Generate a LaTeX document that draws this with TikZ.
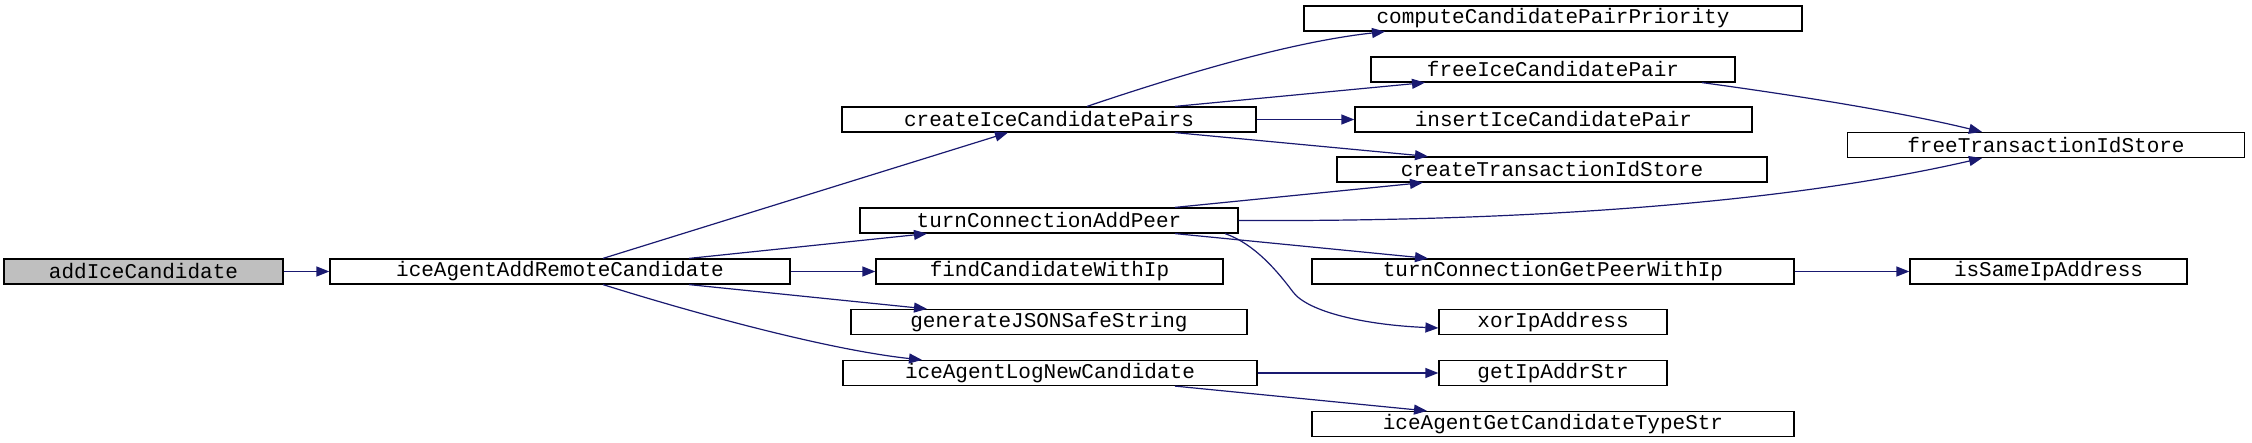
\documentclass[tikz,border=0pt]{standalone}
\usepackage{fontspec}
\setmainfont{Liberation Mono}
\usetikzlibrary{arrows.meta}
\definecolor{edgeblue}{HTML}{191970}
\definecolor{rootgray}{HTML}{BFBFBF}
\begin{document}
\begin{tikzpicture}[x=1pt,y=-1pt,
  fn/.style={draw=black, line width=1.2pt, minimum height=25pt, inner sep=0pt,
             font=\fontsize{21}{21}\selectfont, anchor=center},
  call/.style={draw=edgeblue, line width=1.2pt, -{Triangle[length=13pt,width=10pt]}}]
\useasboundingbox (0,0) rectangle (2252,443);

\node[fn, fill=rootgray, minimum width=279pt] (n1) at (143.5,271.5) {addIceCandidate};
\node[fn, minimum width=460pt] (n2) at (560,271.5) {iceAgentAddRemoteCandidate};
\node[fn, minimum width=414pt] (n3) at (1049,119.5) {createIceCandidatePairs};
\node[fn, minimum width=498pt] (n4) at (1553,18.5) {computeCandidatePairPriority};
\node[fn, minimum width=364pt] (n5) at (1553,69.5) {freeIceCandidatePair};
\node[fn, minimum width=397pt] (n6) at (1553.5,119.5) {insertIceCandidatePair};
\node[fn, minimum width=430pt] (n7) at (1552,169.5) {createTransactionIdStore};
\node[fn, minimum width=378pt] (n8) at (1049,220.5) {turnConnectionAddPeer};
\node[fn, minimum width=397pt] (n9) at (2046,145) {freeTransactionIdStore};
\node[fn, minimum width=347pt] (n10) at (1049.5,271.5) {findCandidateWithIp};
\node[fn, minimum width=482pt] (n11) at (1553,271.5) {turnConnectionGetPeerWithIp};
\node[fn, minimum width=277pt] (n12) at (2048.5,271.5) {isSameIpAddress};
\node[fn, minimum width=396pt] (n13) at (1049,322) {generateJSONSafeString};
\node[fn, minimum width=228pt] (n14) at (1553,322) {xorIpAddress};
\node[fn, minimum width=414pt] (n15) at (1050,373) {iceAgentLogNewCandidate};
\node[fn, minimum width=228pt] (n16) at (1553,373) {getIpAddrStr};
\node[fn, minimum width=482pt] (n17) at (1553,424) {iceAgentGetCandidateTypeStr};

\draw[call] (n1) -- (n2);
\draw[call] ([xshift=43pt]n2.north) -- ([xshift=-41pt]n3.south);
\draw[call] ([xshift=129pt]n2.north) -- ([xshift=-122pt]n8.south);
\draw[call] (n2) -- (n10);
\draw[call] ([xshift=129pt]n2.south) -- ([xshift=-122pt]n13.north);
\draw[call] ([xshift=43pt]n2.south) .. controls (700,315) and (830,350) .. ([xshift=-128pt]n15.north);
\draw[call] ([xshift=38pt]n3.north) .. controls (1180,75) and (1290,42) .. ([xshift=-168pt]n4.south);
\draw[call] ([xshift=126pt]n3.north) -- ([xshift=-128pt]n5.south);
\draw[call] (n3) -- (n6);
\draw[call] ([xshift=126pt]n3.south) -- ([xshift=-124pt]n7.north);
\draw[call] ([xshift=149pt]n5.south) .. controls (1800,96) and (1900,112) .. ([xshift=-64pt]n9.north);
\draw[call] ([xshift=126pt]n8.north) -- ([xshift=-129pt]n7.south);
\draw[call] (n8.east) .. controls (1550,222) and (1800,200) .. ([xshift=-64pt]n9.south);
\draw[call] ([xshift=126pt]n8.south) -- ([xshift=-125pt]n11.north);
\draw[call] ([xshift=176pt]n8.south) .. controls (1255,244) and (1278,272) .. (1293,292)
            .. controls (1308,312) and (1365,325) .. ([yshift=-6pt]n14.west);
\draw[call] (n11) -- (n12);
\draw[call] (n15) -- (n16);
\draw[call] ([xshift=125pt]n15.south) -- ([xshift=-126pt]n17.north);
\end{tikzpicture}
\end{document}
